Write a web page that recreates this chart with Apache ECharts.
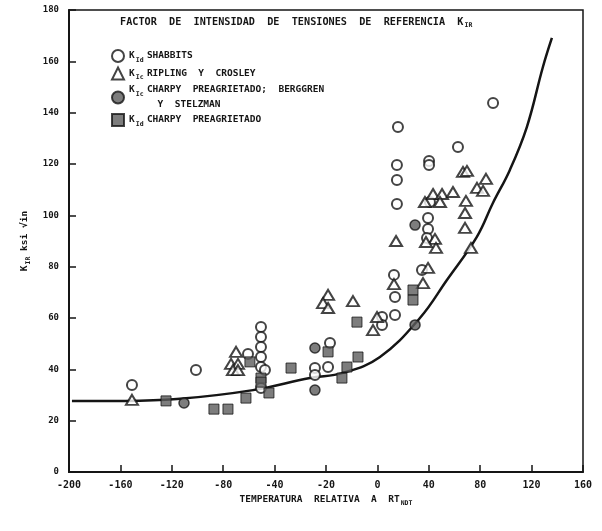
<!DOCTYPE html>
<html>
<head>
<meta charset="utf-8">
<script src="https://cdn.jsdelivr.net/npm/echarts@6/dist/echarts.min.js"></script>
<style>html,body{margin:0;padding:0;background:#fff;}#c{width:602px;height:531px;}</style>
</head>
<body>
<div id="c"></div>
<script>
// Tick labels as printed on the scanned chart (underlying linear scale -200..200, step 40)
var xTickLabels = ['-200','-160','-120','-80','-40','-20','0','40','80','120','160'];
var yTickLabels = ['0','20','40','60','80','100','120','140','160','180'];

// K_Id Shabbits (open circles)
var shabbits = [
  [-151.0,33.9],[-101.2,39.7],[-60.7,46.0],
  [-50.6,56.5],[-50.6,52.6],[-50.6,48.7],[-50.6,44.8],[-50.6,40.9],[-47.5,39.7],[-50.6,32.7],
  [-8.6,40.5],[-8.6,37.8],[1.6,40.9],[3.1,50.3],
  [52.9,76.8],[43.6,60.4],[53.7,61.2],[43.6,57.3],[53.7,68.2],
  [55.2,119.6],[55.2,113.8],[55.2,104.4],[56.0,134.4],
  [80.2,121.2],[80.2,119.6],[102.7,126.6],[130.0,143.8],
  [79.4,99.0],[79.4,94.7],[78.6,91.2],[80.9,105.2],[74.7,78.7]
];
// K_Ic Ripling y Crosley (open triangles)
var ripling = [
  [-151.0,28.1],
  [-70.0,46.8],[-73.9,42.1],[-68.5,42.1],[-72.4,39.7],[-68.5,39.7],
  [1.6,69.0],[-2.3,65.8],[1.6,63.9],[21.0,66.6],
  [39.7,60.4],[36.6,55.3],
  [54.5,90.0],[52.9,73.2],[79.4,79.5],[75.5,73.6],
  [77.0,105.2],[83.3,108.3],[90.3,108.3],[88.7,105.2],[98.8,109.1],
  [84.8,90.8],[85.6,87.3],[77.8,89.6],
  [106.6,116.9],[109.7,117.3],
  [124.5,114.2],[117.5,110.7],[122.2,109.5],
  [108.9,105.6],[108.2,100.9],[108.2,95.1],[112.8,87.3]
];
// K_Ic Charpy preagrietado; Berggren y Stelzman (filled circles)
var berggren = [
  [-110.5,26.9],[-8.6,48.3],[-8.6,31.9],[69.3,96.2],[69.3,57.3]
];
// K_Id Charpy preagrietado (filled squares)
var charpy = [
  [-124.5,27.7],[-87.2,24.5],[-76.3,24.5],[-62.3,28.8],[-59.2,42.9],
  [-50.6,36.6],[-50.6,35.0],[-44.4,30.8],[-27.2,40.5],[1.6,46.8],
  [12.4,36.6],[16.3,40.9],[24.9,44.8],[24.1,58.4],[67.7,70.9],[67.7,67.0]
];
// Reference curve K_IR
var curve = [
  [-197.7,27.7],[-156.4,27.7],[-116,28.4],[-56.8,31.9],[-12.5,36.6],[13.2,38.6],
  [42,44.8],[73.1,60],[94.1,74.8],[117.4,91.6],[129.9,104.8],[143.1,117.7],
  [156.3,134.4],[168.8,157.8],[175.8,169.1]
];

var seriesNames = ['SHABBITS','RIPLING  Y  CROSLEY','CHARPY  PREAGRIETADO;  BERGGREN','CHARPY  PREAGRIETADO'];
var seriesSubs = ['Id','Ic','Ic','Id'];

var FONT = 'DejaVu Sans Mono';
var INK = '#151515';
var GREY = '#5c5c5c';

var chart = echarts.init(document.getElementById('c'), null, {renderer:'canvas'});
chart.setOption({
  backgroundColor:'#fff',
  animation:false,
  grid:{left:69,right:19,top:10,bottom:59,show:true,borderColor:INK,borderWidth:1.5,backgroundColor:'transparent'},
  title:{
    left:115, top:10,
    text:'{t|FACTOR  DE  INTENSIDAD  DE  TENSIONES  DE  REFERENCIA  K}{s|IR}',
    textStyle:{rich:{
      t:{fontFamily:FONT,fontWeight:'bold',fontSize:10.2,color:INK,lineHeight:14,verticalAlign:'middle'},
      s:{fontFamily:FONT,fontWeight:'bold',fontSize:6.5,color:INK,lineHeight:14,verticalAlign:'bottom',padding:[4,0,0,1]}
    }}
  },
  legend:{
    orient:'vertical', left:106, top:44, itemGap:3, itemWidth:12, itemHeight:12,
    data:seriesNames,
    formatter:function(n){
      var i = seriesNames.indexOf(n);
      var s = '{k|K}{s|'+seriesSubs[i]+'} {t|'+n+'}';
      if(i===2){ s += '\n{t|     Y  STELZMAN}'; }
      return s;
    },
    textStyle:{rich:{
      k:{fontFamily:FONT,fontWeight:'bold',fontSize:9.5,color:INK,lineHeight:15,verticalAlign:'middle'},
      s:{fontFamily:FONT,fontWeight:'bold',fontSize:6.5,color:INK,lineHeight:15,verticalAlign:'bottom',padding:[4,0,0,1]},
      t:{fontFamily:FONT,fontWeight:'bold',fontSize:9.5,color:INK,lineHeight:15,verticalAlign:'middle'}
    }}
  },
  xAxis:{
    type:'value', min:-200, max:200, interval:40,
    name:'{t|TEMPERATURA  RELATIVA  A  RT}{s|NDT}',
    nameLocation:'middle', nameGap:19,
    nameTextStyle:{rich:{
      t:{fontFamily:FONT,fontWeight:'bold',fontSize:9.5,color:INK,lineHeight:14,verticalAlign:'middle'},
      s:{fontFamily:FONT,fontWeight:'bold',fontSize:6.5,color:INK,lineHeight:14,verticalAlign:'bottom',padding:[5,0,0,1]}
    }},
    axisLine:{show:true,onZero:false,lineStyle:{color:INK,width:2}},
    axisTick:{show:true,inside:true,length:7,lineStyle:{color:INK,width:1.5}},
    splitLine:{show:false},
    axisLabel:{
      margin:8, color:INK, fontFamily:FONT, fontWeight:'bold', fontSize:10,
      formatter:function(v){ return xTickLabels[Math.round((v+200)/40)]; }
    }
  },
  yAxis:{
    type:'value', min:0, max:180, interval:20,
    name:'{k|K}{s|IR}{t| ksi }{t|√in}',
    nameLocation:'middle', nameGap:34, nameRotate:90,
    nameTextStyle:{rich:{
      k:{fontFamily:FONT,fontWeight:'bold',fontSize:9.5,color:INK,lineHeight:14,verticalAlign:'middle'},
      s:{fontFamily:FONT,fontWeight:'bold',fontSize:6.5,color:INK,lineHeight:14,verticalAlign:'bottom',padding:[4,0,0,1]},
      t:{fontFamily:FONT,fontWeight:'bold',fontSize:9.5,color:INK,lineHeight:14,verticalAlign:'middle'}
    }},
    axisLine:{show:true,onZero:false,lineStyle:{color:INK,width:2}},
    axisTick:{show:true,inside:true,length:7,lineStyle:{color:INK,width:1.5}},
    splitLine:{show:false},
    axisLabel:{
      margin:10, color:INK, fontFamily:FONT, fontWeight:'bold', fontSize:9,
      formatter:function(v){ return yTickLabels[Math.round(v/20)]; }
    }
  },
  series:[
    {name:'curve', type:'line', data:curve, smooth:0.4, showSymbol:false, symbol:'none',
     lineStyle:{color:INK,width:2.5}, z:1, legendHoverLink:false},
    {name:seriesNames[0], type:'scatter', data:shabbits, symbol:'circle', symbolSize:10,
     itemStyle:{color:'#fff',borderColor:INK,borderWidth:2}, z:3},
    {name:seriesNames[1], type:'scatter', data:ripling, symbol:'triangle', symbolSize:[12,10],
     itemStyle:{color:'#fff',borderColor:INK,borderWidth:2}, z:3},
    {name:seriesNames[2], type:'scatter', data:berggren, symbol:'circle', symbolSize:10,
     itemStyle:{color:GREY,borderColor:INK,borderWidth:1.5}, z:4},
    {name:seriesNames[3], type:'scatter', data:charpy, symbol:'rect', symbolSize:10,
     itemStyle:{color:GREY,borderColor:INK,borderWidth:1}, z:4}
  ]
});
</script>
</body>
</html>
